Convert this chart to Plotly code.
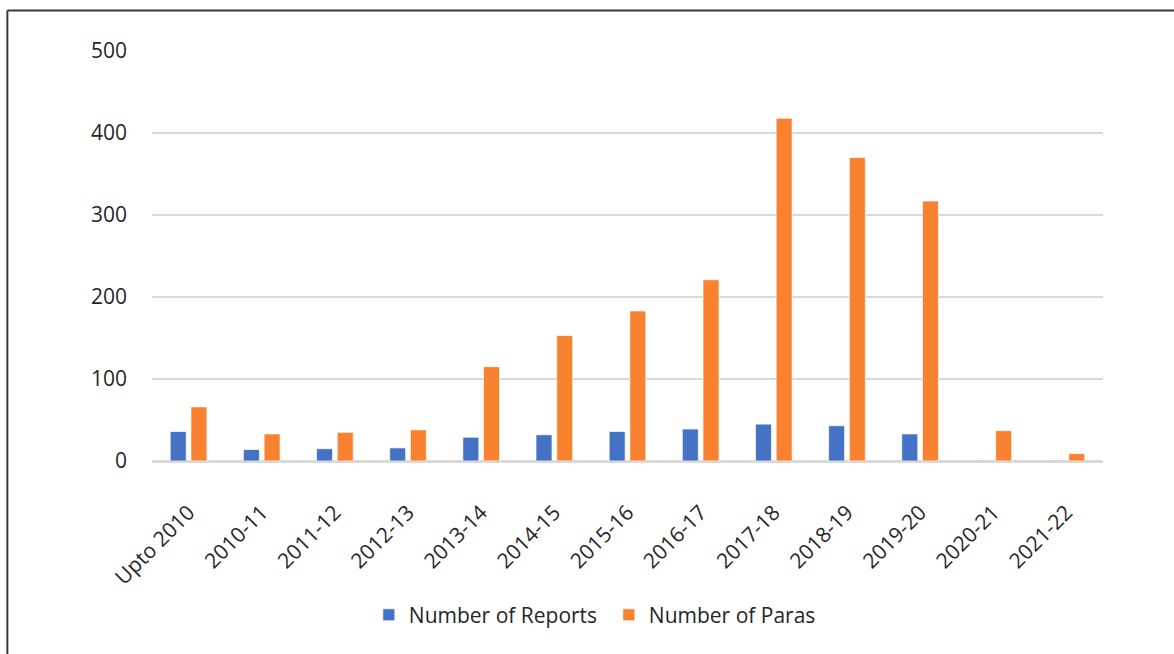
import plotly.graph_objects as go

# Audit years and counts
years = ["Upto 2010", "2010-11", "2011-12", "2012-13", "2013-14", "2014-15",
         "2015-16", "2016-17", "2017-18", "2018-19", "2019-20", "2020-21", "2021-22"]
reports = [36, 14, 15, 16, 29, 32, 36, 39, 45, 43, 33, 1, 1]
paras = [66, 33, 35, 38, 115, 153, 183, 221, 418, 370, 317, 37, 9]

y_ticks = [0, 100, 200, 300, 400, 500]

FONT = "Open Sans"
TEXT = "#262626"

fig = go.Figure()
fig.add_trace(go.Bar(
    x=years, y=reports, name="Number of Reports",
    marker=dict(color="#4472C4", line=dict(color="rgba(255,255,255,0.7)", width=1)),
))
fig.add_trace(go.Bar(
    x=years, y=paras, name="Number of Paras",
    marker=dict(color="#F8822F", line=dict(color="rgba(255,255,255,0.7)", width=1)),
))

fig.update_layout(
    width=1174, height=654,
    margin=dict(l=152, r=71, t=51, b=193),
    paper_bgcolor="white", plot_bgcolor="white",
    barmode="group", bargap=0.434, bargroupgap=0.227,
    font=dict(family=FONT, size=21, color=TEXT),
    showlegend=True,
    legend=dict(
        orientation="h", x=0.228, xanchor="left", y=-0.376, yanchor="middle",
        font=dict(family=FONT, size=21, color=TEXT),
        itemwidth=30, tracegroupgap=0, entrywidth=195, entrywidthmode="pixels",
    ),
    xaxis=dict(
        type="category", tickangle=-45, showgrid=False, zeroline=False,
        showline=False, ticks="", ticklabelstandoff=34,
        tickfont=dict(size=21, color=TEXT),
    ),
    yaxis=dict(
        range=[0, 500], tickvals=y_ticks, showgrid=True, gridcolor="#D9D9D9",
        gridwidth=2, zeroline=True, zerolinecolor="#D9D9D9", zerolinewidth=2.5,
        showline=False, ticks="", ticklabelstandoff=24,
        tickfont=dict(size=21, color=TEXT),
    ),
    shapes=[
        dict(type="line", xref="paper", yref="paper", x0=-0.1521, x1=1.2, y0=1.0986, y1=1.0986,
             line=dict(color="#3A3A3A", width=2)),
        dict(type="line", xref="paper", yref="paper", x0=-0.1521, x1=-0.1521, y0=1.0986, y1=-0.5,
             line=dict(color="#3A3A3A", width=2)),
    ],
)

fig.write_html("out.html")
